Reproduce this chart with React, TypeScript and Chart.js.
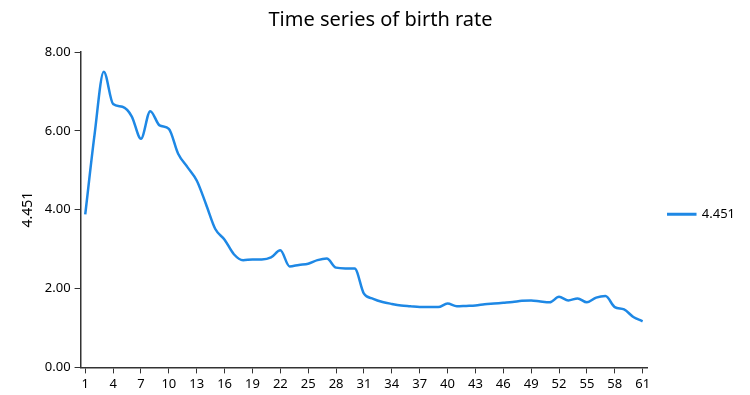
import React, { useEffect, useRef } from "react";
import { Chart, registerables } from "chart.js";

Chart.register(...registerables);

const labels: string[] = Array.from({ length: 61 }, (_, i) => String(i + 1));
const seriesName = "4.451";
const values: number[] = [
  3.88, 5.9, 7.5, 6.68, 6.61, 6.37, 5.8, 6.5, 6.14, 6.05,
  5.42, 5.08, 4.74, 4.14, 3.51, 3.24, 2.87, 2.72, 2.74, 2.74,
  2.79, 2.97, 2.56, 2.6, 2.63, 2.72, 2.76, 2.53, 2.51, 2.51,
  1.87, 1.74, 1.66, 1.61, 1.57, 1.55, 1.53, 1.53, 1.53, 1.62,
  1.55, 1.56, 1.57, 1.6, 1.62, 1.64, 1.66, 1.69, 1.7, 1.67,
  1.65, 1.79, 1.7, 1.75, 1.65, 1.77, 1.81, 1.53, 1.47, 1.28,
  1.17,
];
const titleText = "Time series of birth rate";
const yTitle = "4.451";

const FONT = "'Noto Sans', 'Open Sans', sans-serif";

export default function App() {
  const ref = useRef<HTMLCanvasElement | null>(null);
  useEffect(() => {
    if (!ref.current) return;
    const chart = new Chart(ref.current, {
      type: "line",
      data: {
        labels,
        datasets: [
          {
            label: seriesName,
            data: values,
            borderColor: "#1E88E5",
            backgroundColor: "#1E88E5",
            borderWidth: 2.5,
            pointRadius: 0,
            cubicInterpolationMode: "monotone",
            fill: false,
          },
        ],
      },
      options: {
        animation: false,
        responsive: true,
        maintainAspectRatio: false,
        layout: { padding: { left: 8, right: -3, top: 0, bottom: 0 } },
        plugins: {
          title: {
            display: true,
            text: titleText,
            color: "#000",
            font: { family: FONT, size: 20, weight: "normal" },
            padding: { top: 0, bottom: 20 },
          },
          legend: {
            position: "right",
            title: {
              display: true,
              text: " ",
              font: { family: FONT, size: 13 },
              padding: 5,
            },
            labels: {
              color: "#000",
              font: { family: FONT, size: 13 },
              boxWidth: 27,
              boxHeight: 0.5,
              padding: 21,
              useBorderRadius: false,
            },
          },
          tooltip: { enabled: false },
        },
        scales: {
          x: {
            type: "category",
            offset: true,
            grid: {
              display: true,
              drawOnChartArea: false,
              drawTicks: true,
              tickLength: 6,
              color: "#333",
              offset: false,
            },
            border: { color: "#333", width: 1.5 },
            ticks: {
              color: "#000",
              font: { family: FONT, size: 13 },
              autoSkip: false,
              maxRotation: 0,
              padding: 3,
              callback: (_v: any, i: number) => (i % 3 === 0 ? labels[i] : null),
            },
          },
          y: {
            min: 0,
            max: 8,
            grid: {
              display: true,
              drawOnChartArea: false,
              drawTicks: true,
              tickLength: 6,
              color: "#333",
            },
            border: { color: "#333", width: 1.5 },
            ticks: {
              stepSize: 2,
              color: "#000",
              font: { family: FONT, size: 13 },
              padding: 4,
              callback: (v: any) => Number(v).toFixed(2),
            },
            title: {
              display: true,
              text: yTitle,
              color: "#000",
              font: { family: FONT, size: 14 },
            },
          },
        },
      },
    });
    return () => chart.destroy();
  }, []);
  return (
    <div style={{ width: 734, height: 387 }}>
      <canvas ref={ref} />
    </div>
  );
}
